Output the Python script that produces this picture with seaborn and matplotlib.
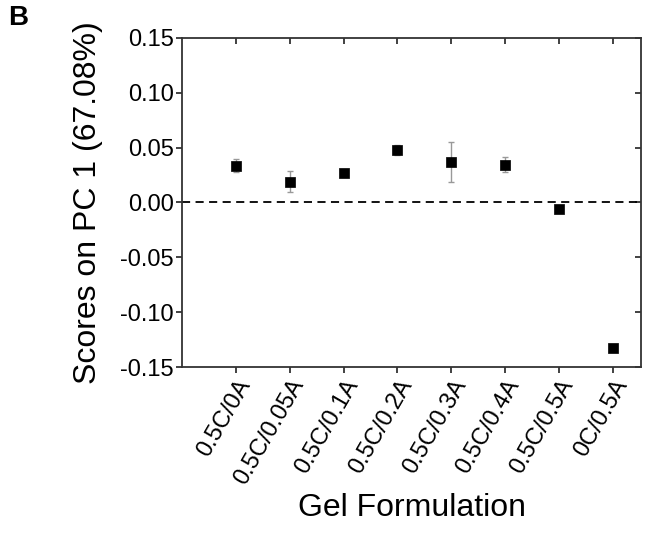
import numpy as np
import pandas as pd
import matplotlib
matplotlib.use('Agg')
import matplotlib.pyplot as plt
import seaborn as sns

# values
formulations = ['0.5C/0A', '0.5C/0.05A', '0.5C/0.1A', '0.5C/0.2A',
                '0.5C/0.3A', '0.5C/0.4A', '0.5C/0.5A', '0C/0.5A']
scores = [0.0335, 0.0190, 0.0268, 0.0480, 0.0370, 0.0345, -0.0058, -0.1330]
errors = [0.0056, 0.0098, 0.0018, 0.0045, 0.0180, 0.0066, 0.0012, 0.0010]
y_ticks = [-0.15, -0.10, -0.05, 0.00, 0.05, 0.10, 0.15]

df = pd.DataFrame({'form': formulations, 'score': scores, 'err': errors})

sns.set_style('ticks')
plt.rcParams['font.family'] = ['Liberation Sans', 'DejaVu Sans']
plt.rcParams['axes.unicode_minus'] = False
plt.rcParams['text.color'] = 'black'
plt.rcParams['axes.labelcolor'] = 'black'
plt.rcParams['xtick.color'] = 'black'
plt.rcParams['ytick.color'] = 'black'

fig = plt.figure(figsize=(6.45, 5.39), dpi=100)
ax = fig.add_axes([0.282, 0.319, 0.712, 0.611])

ax.axhline(0, color='black', ls=(0, (4.5, 3)), lw=1.3, zorder=1)

xpos = np.arange(len(df))
ax.errorbar(xpos, df['score'], yerr=df['err'], fmt='none', ecolor='#999999',
            elinewidth=1.0, capsize=2.5, capthick=1.0, zorder=2)
sns.scatterplot(data=df, x='form', y='score', marker='s', s=55, color='black',
                edgecolor='black', linewidth=0.5, ax=ax, zorder=3)

ax.set_xlim(-1, 7.52)
ax.set_ylim(-0.15, 0.15)
ax.set_yticks(y_ticks)
ax.set_yticklabels(['%.2f' % v for v in y_ticks])
ax.set_xticks(xpos)
ax.set_xticklabels(formulations, rotation=60, ha='right', rotation_mode='anchor')

for sp in ax.spines.values():
    sp.set_visible(True)
    sp.set_linewidth(1.3)
    sp.set_color('#333333')

ax.tick_params(axis='both', which='major', direction='out', length=4, width=1.3,
               color='#333333', labelcolor='black', labelsize=17, pad=2)
ax.tick_params(axis='x', top=True, labeltop=False)
ax.tick_params(axis='y', right=True, labelright=False)
# inward ticks on top and right spines
for t in ax.xaxis.get_major_ticks():
    t.tick2line.set_marker(3)
for t in ax.yaxis.get_major_ticks():
    t.tick2line.set_marker(0)

ax.set_xlabel('Gel Formulation', fontsize=23, labelpad=3, color='black')
ax.set_ylabel('Scores on PC 1 (67.08%)', fontsize=23, labelpad=12, color='black')

fig.text(0.012, 0.99, 'B', fontsize=20, fontweight='bold', va='top', ha='left', color='black')

fig.savefig('out.png', dpi=100)
